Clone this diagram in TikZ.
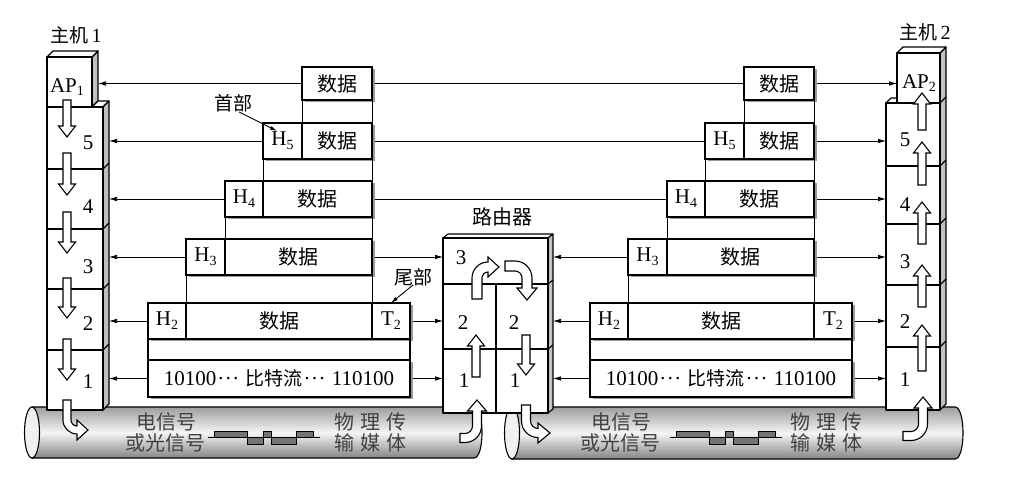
\documentclass[tikz,border=0pt]{standalone}
\usepackage{fontspec}
\setmainfont{Liberation Serif}
\newfontfamily\cjk{Noto Sans CJK SC}
\usetikzlibrary{arrows.meta}
\newcommand\mysub[1]{\raisebox{-0.4ex}{\fontsize{14}{14}\selectfont #1}}
\newcommand\mydots{\kern1pt·\kern0.5pt·\kern0.5pt·\kern1pt}
\newcommand\blkdown[3]{\draw[blk] (#1-4,#2) -- (#1+4,#2) -- (#1+4,#3-11) -- (#1+8.5,#3-11) -- (#1,#3) -- (#1-8.5,#3-11) -- (#1-4,#3-11) -- cycle;}
\newcommand\blkup[3]{\draw[blk] (#1-4,#2) -- (#1+4,#2) -- (#1+4,#3+11) -- (#1+8.5,#3+11) -- (#1,#3) -- (#1-8.5,#3+11) -- (#1-4,#3+11) -- cycle;}
\tikzset{
  lbl/.style={inner sep=0pt, font=\fontsize{21}{23}\selectfont},
  cjkl/.style={inner sep=0pt, font=\cjk\fontsize{19}{21}\selectfont},
  cyltxt/.style={inner sep=0pt, text=black!75, font=\cjk\fontsize{20}{22}\selectfont},
  pbox/.style={draw, line width=1.8pt, fill=white, inner sep=0pt, outer sep=0pt, font=\fontsize{21}{23}\selectfont},
  pshadow/.style={fill=black!40},
  hst/.style={draw, line width=1.1pt, line join=round},
  hbox/.style={hst, fill=white, inner sep=0pt, outer sep=0pt},
  sideface/.style={hst, fill=black!25},
  thinl/.style={line width=0.8pt},
  biarr/.style={line width=0.75pt, {Latex[length=8pt,width=4.5pt]}-{Latex[length=8pt,width=4.5pt]}},
  ptr/.style={line width=0.9pt, -{Latex[length=7pt,width=4pt]}},
  blk/.style={draw, fill=white, line width=1.1pt, line join=miter},
  wave/.style={draw, line width=0.9pt, fill=black!55},
}
\newcommand\packets[1]{%
  \fill[pshadow] (304.5,69.5) rectangle (374.5,102.5);
  \fill[pshadow] (265.5,125.5) rectangle (374.5,161.5);
  \fill[pshadow] (227.5,183.5) rectangle (374.5,219.5);
  \fill[pshadow] (188.5,241.5) rectangle (374.5,277.5);
  \fill[pshadow] (150.5,305.5) rectangle (412.5,341.5);
  \fill[pshadow] (150.5,362.5) rectangle (412.5,399.5);
  \node[pbox, minimum width=70, minimum height=33] (#1ap) at (337,83.5) {\cjk\fontsize{20}{22}\selectfont 数据};
  \node[pbox, minimum width=39, minimum height=36] (#1h5) at (282.5,141) {H\mysub{5}};
  \node[pbox, minimum width=70, minimum height=36] (#1d5) at (337,141) {\cjk\fontsize{20}{22}\selectfont 数据};
  \node[pbox, minimum width=38, minimum height=36] (#1h4) at (244,199) {H\mysub{4}};
  \node[pbox, minimum width=109, minimum height=36] (#1d4) at (317.5,199) {\cjk\fontsize{20}{22}\selectfont 数据};
  \node[pbox, minimum width=39, minimum height=36] (#1h3) at (205.5,257) {H\mysub{3}};
  \node[pbox, minimum width=147, minimum height=36] (#1d3) at (298.5,257) {\cjk\fontsize{20}{22}\selectfont 数据};
  \node[pbox, minimum width=38, minimum height=36] (#1h2) at (167,321) {H\mysub{2}};
  \node[pbox, minimum width=186, minimum height=36] (#1d2) at (279,321) {\cjk\fontsize{20}{22}\selectfont 数据};
  \node[pbox, minimum width=38, minimum height=36] (#1t2) at (391,321) {T\mysub{2}};
  \node[pbox, minimum width=262, minimum height=37] (#1b) at (279,378.5) {10100\mydots\ {\cjk\fontsize{19}{21}\selectfont 比特流}\mydots\ 110100};
  \draw[thinl] (#1ap.south west) -- (#1d5.north west);
  \draw[thinl] (#1ap.south east) -- (#1d5.north east);
  \draw[thinl] (#1h5.south west) -- (#1d4.north west);
  \draw[thinl] (#1d5.south east) -- (#1d4.north east);
  \draw[thinl] (#1h4.south west) -- (#1d3.north west);
  \draw[thinl] (#1d4.south east) -- (#1d3.north east);
  \draw[thinl] (#1h3.south west) -- (#1d2.north west);
  \draw[thinl] (#1d3.south east) -- (#1t2.north west);
  \draw[line width=1.2pt] (#1h2.south west) -- (#1b.north west);
  \draw[line width=1.2pt] (#1t2.south east) -- (#1b.north east);
}
\begin{document}
\begin{tikzpicture}[x=1pt,y=-1pt]
\useasboundingbox (0,0) rectangle (1010,486);
\fill[white] (0,0) rectangle (1010,486);

% ---------- cylinders ----------
\shade[top color=black!38, bottom color=black!48, middle color=black!4, draw, line width=1.1pt]
  (32,407) -- (474,407) .. controls (484.7,407) and (484.7,458) .. (474,458) -- (32,458) -- cycle;
\draw[line width=1.1pt, fill=black!6] (32,432.5) ellipse [x radius=7.5pt, y radius=25.5pt];
\shade[top color=black!38, bottom color=black!48, middle color=black!4, draw, line width=1.1pt]
  (512,407) -- (955,407) .. controls (965.7,407) and (965.7,459) .. (955,459) -- (512,459) -- cycle;
\draw[line width=1.1pt, fill=black!6] (512,433) ellipse [x radius=7.5pt, y radius=26pt];

\foreach \dx in {0,462} {
  \begin{scope}[shift={(\dx,0)}]
    \draw[line width=0.9pt] (208,437.5) -- (320,437.5);
    \draw[wave] (214,431) rectangle (247,437.5);
    \draw[wave] (247,437.5) rectangle (263,444);
    \draw[wave] (263,431) rectangle (271,437.5);
    \draw[wave] (271,437.5) rectangle (296,444);
    \draw[wave] (296,431) rectangle (313,437.5);
  \end{scope}
}
\node[cyltxt] (c1a) at (166,422) {电信号};
\node[cyltxt] (c1b) at (165,443) {或光信号};
\node[cyltxt] (c1c) at (370,422) {物\hspace{6pt}理\hspace{6pt}传};
\node[cyltxt] (c1d) at (370,443) {输\hspace{6pt}媒\hspace{6pt}体};
\node[cyltxt] (c2a) at (621,422) {电信号};
\node[cyltxt] (c2b) at (620,443) {或光信号};
\node[cyltxt] (c2c) at (826,422) {物\hspace{6pt}理\hspace{6pt}传};
\node[cyltxt] (c2d) at (826,443) {输\hspace{6pt}媒\hspace{6pt}体};

% ---------- connector end points ----------
\coordinate (h1a6) at (98,83.5);   \coordinate (h2a6) at (897,83.5);
\coordinate (h1a5) at (109,141);   \coordinate (h2a5) at (886,141);
\coordinate (h1a4) at (109,199);   \coordinate (h2a4) at (886,199);
\coordinate (h1a3) at (109,257);   \coordinate (h2a3) at (886,257);
\coordinate (h1a2) at (109,321);   \coordinate (h2a2) at (886,321);
\coordinate (h1a1) at (109,378.5); \coordinate (h2a1) at (886,378.5);
\coordinate (rl3) at (443,257);    \coordinate (rr3) at (553,257);
\coordinate (rl2) at (443,321);    \coordinate (rr2) at (553,321);
\coordinate (rl1) at (443,378.5);  \coordinate (rr1) at (553,378.5);

\draw[biarr] (h1a6) -- (h2a6);
\draw[biarr] (h1a5) -- (h2a5);
\draw[biarr] (h1a4) -- (h2a4);
\draw[biarr] (h1a3) -- (rl3);
\draw[biarr] (h1a2) -- (rl2);
\draw[biarr] (h1a1) -- (rl1);
\draw[biarr] (rr3) -- (h2a3);
\draw[biarr] (rr2) -- (h2a2);
\draw[biarr] (rr1) -- (h2a1);

% ---------- packets ----------
\packets{L}
\begin{scope}[shift={(442,0)}]
\packets{R}
\end{scope}

% labels with pointers
\node[cjkl] (shoubu) at (233,103) {首部};
\coordinate (hp) at (277,131);
\draw[ptr] (239,112) -- (hp);
\node[cjkl] (weibu) at (413,277) {尾部};
\draw[ptr] (413,285) -- (Lt2.north);

% ---------- host 1 ----------
\draw[sideface] (92,57) -- (98,51) -- (98,101) -- (92,107) -- cycle;
\draw[hst, fill=white] (47,57) -- (53,51) -- (98,51) -- (92,57) -- cycle;
\draw[hst, fill=white] (92,107) -- (98,101) -- (109,101) -- (103,107) -- cycle;
\draw[sideface] (103,107) -- (109,101) -- (109,404) -- (103,410) -- cycle;
\foreach \yy in {169,229,289,350} \draw[hst] (103,\yy) -- (109,\yy-6);
\node[hbox, minimum width=45, minimum height=50] (h1ap) at (69.5,82) {};
\node[hbox, minimum width=56, minimum height=62] (h1l5) at (75,138) {};
\node[hbox, minimum width=56, minimum height=60] (h1l4) at (75,199) {};
\node[hbox, minimum width=56, minimum height=60] (h1l3) at (75,259) {};
\node[hbox, minimum width=56, minimum height=61] (h1l2) at (75,319.5) {};
\node[hbox, minimum width=56, minimum height=60] (h1l1) at (75,380) {};

% ---------- host 2 ----------
\draw[sideface] (940,53) -- (946,47) -- (946,404) -- (940,410) -- cycle;
\draw[hst, fill=white] (897,53) -- (903,47) -- (946,47) -- (940,53) -- cycle;
\draw[hst, fill=white] (886,103) -- (891,98) -- (897,98) -- (897,103) -- cycle;
\foreach \yy in {103,166,224,285,347} \draw[hst] (940,\yy) -- (946,\yy-6);
\node[hbox, minimum width=43, minimum height=50] (h2ap) at (918.5,78) {};
\node[hbox, minimum width=54, minimum height=63] (h2l5) at (913,134.5) {};
\node[hbox, minimum width=54, minimum height=58] (h2l4) at (913,195) {};
\node[hbox, minimum width=54, minimum height=61] (h2l3) at (913,254.5) {};
\node[hbox, minimum width=54, minimum height=62] (h2l2) at (913,316) {};
\node[hbox, minimum width=54, minimum height=63] (h2l1) at (913,378.5) {};

% ---------- router ----------
\draw[hst, fill=white] (443,238) -- (448,234) -- (553,234) -- (548,238) -- cycle;
\draw[sideface] (548,238) -- (553,234) -- (553,409) -- (548,413) -- cycle;
\foreach \yy in {284,349} \draw[hst] (548,\yy) -- (553,\yy-4);
\node[hbox, minimum width=105, minimum height=46] (r3) at (495.5,261) {};
\node[hbox, minimum width=53, minimum height=65] (r2l) at (469.5,316.5) {};
\node[hbox, minimum width=52, minimum height=65] (r2r) at (522,316.5) {};
\node[hbox, minimum width=53, minimum height=64] (r1l) at (469.5,381) {};
\node[hbox, minimum width=52, minimum height=64] (r1r) at (522,381) {};

% ---------- block arrows ----------
\blkdown{67}{100}{137}
\blkdown{67}{153}{195}
\blkdown{67}{212}{253}
\blkdown{67}{278}{318}
\blkdown{67}{339}{380}
\blkup{922}{130}{93}
\blkup{922}{185}{142}
\blkup{922}{244}{202}
\blkup{922}{307}{265}
\blkup{922}{371}{325}
\blkup{476}{377}{335}
\blkdown{526}{335}{375}
% host1 bottom: down then right
\draw[blk] (63,400) -- (63,420) .. controls (63,427.7) and (69.3,434) .. (77,434) -- (77,440) -- (88,430) -- (77,420) -- (77,426) .. controls (73.7,426) and (71,423.3) .. (71,420) -- (71,400) -- cycle;
% router bottom right: down then right
\draw[blk] (521.5,405) -- (521.5,421) .. controls (521.5,430.1) and (528.9,437.5) .. (538,437.5) -- (538,443) -- (550,433) -- (538,423) -- (538,428.5) .. controls (533.9,428.5) and (530.5,425.1) .. (530.5,421) -- (530.5,405) -- cycle;
% router bottom left: right then up
\draw[blk] (460,442.5) -- (465,442.5) .. controls (474.1,442.5) and (481.5,435.1) .. (481.5,426) -- (481.5,411) -- (486.5,411) -- (477,400) -- (467.5,411) -- (472.5,411) -- (472.5,426) .. controls (472.5,430.1) and (469.1,433.5) .. (465,433.5) -- (460,433.5) -- cycle;
% host2 bottom: right then up
\draw[blk] (903,440.5) -- (911,440.5) .. controls (920.1,440.5) and (927.5,433.1) .. (927.5,424) -- (927.5,408) -- (932,408) -- (923,397) -- (914,408) -- (918.5,408) -- (918.5,424) .. controls (918.5,428.1) and (915.1,431.5) .. (911,431.5) -- (903,431.5) -- cycle;
% router layer 3: up then right
\draw[blk] (472,299) -- (472,278) .. controls (472,269.2) and (479.2,262) .. (488,262) -- (488,257) -- (499,267) -- (488,277) -- (488,272) .. controls (484.7,272) and (482,274.7) .. (482,278) -- (482,299) -- cycle;
% router layer 3: right then down
\draw[blk] (505,261) -- (515,261) .. controls (524.35,261) and (532,268.65) .. (532,278) -- (532,288) -- (537,288) -- (527,300) -- (517,288) -- (522,288) -- (522,278) .. controls (522,274.15) and (518.85,271) .. (515,271) -- (505,271) -- cycle;

% ---------- labels ----------
\node[cjkl] (host1) at (76,35) {主机\,{\rmfamily\fontsize{20}{22}\selectfont 1}};
\node[cjkl] (host2) at (925,32) {主机\,{\rmfamily\fontsize{20}{22}\selectfont 2}};
\node[lbl] (ap1) at (67,87) {AP\mysub{1}};
\node[lbl] (ap2) at (919,83) {AP\mysub{2}};
\node[lbl] (n15) at (88,143) {5};
\node[lbl] (n14) at (88,207) {4};
\node[lbl] (n13) at (88,267) {3};
\node[lbl] (n12) at (88,324) {2};
\node[lbl] (n11) at (88,382) {1};
\node[lbl] (n25) at (905,140) {5};
\node[lbl] (n24) at (905,205) {4};
\node[lbl] (n23) at (905,262) {3};
\node[lbl] (n22) at (905,322) {2};
\node[lbl] (n21) at (905,380) {1};
\node[cjkl] (router) at (502,217) {\fontsize{20}{22}\selectfont 路由器};
\node[lbl] (rn3) at (461,258) {3};
\node[lbl] (rn2a) at (463,323) {2};
\node[lbl] (rn2b) at (514,323) {2};
\node[lbl] (rn1a) at (464,381) {1};
\node[lbl] (rn1b) at (515,381) {1};
\end{tikzpicture}
\end{document}
